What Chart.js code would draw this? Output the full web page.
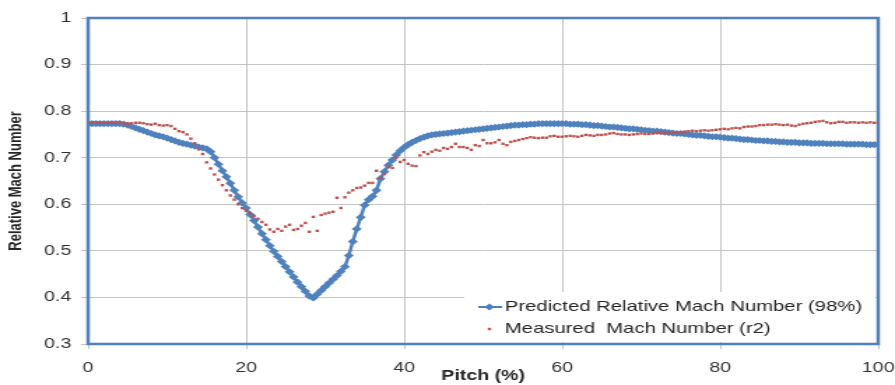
<!DOCTYPE html>
<html>
<head>
<meta charset="utf-8">
<script src="https://cdn.jsdelivr.net/npm/chart.js@4.4.1/dist/chart.umd.min.js"></script>
<style>
  html, body { margin: 0; padding: 0; background: #fff; overflow: hidden; }
  /* the figure is drawn narrow and stretched sideways */
  #wrap { width: 640px; height: 385px; transform: scaleX(1.3984); transform-origin: 0 0; }
</style>
</head>
<body>
<div id="wrap"><canvas id="machChart"></canvas></div>
<script>
// pitch positions (%) of the sampled points
const pitch = [
  0, 0.5, 1, 1.5, 2, 2.5, 3, 3.5, 4, 4.5,
  5, 5.5, 6, 6.5, 7, 7.5, 8, 8.5, 9, 9.5,
  10, 10.5, 11, 11.5, 12, 12.5, 13, 13.5, 14, 14.5,
  15, 15.5, 16, 16.5, 17, 17.5, 18, 18.5, 19, 19.5,
  20, 20.5, 21, 21.5, 22, 22.5, 23, 23.5, 24, 24.5,
  25, 25.5, 26, 26.5, 27, 27.5, 28, 28.5, 29, 29.5,
  30, 30.5, 31, 31.5, 32, 32.5, 33, 33.5, 34, 34.5,
  35, 35.5, 36, 36.5, 37, 37.5, 38, 38.5, 39, 39.5,
  40, 40.5, 41, 41.5, 42, 42.5, 43, 43.5, 44, 44.5,
  45, 45.5, 46, 46.5, 47, 47.5, 48, 48.5, 49, 49.5,
  50, 50.5, 51, 51.5, 52, 52.5, 53, 53.5, 54, 54.5,
  55, 55.5, 56, 56.5, 57, 57.5, 58, 58.5, 59, 59.5,
  60, 60.5, 61, 61.5, 62, 62.5, 63, 63.5, 64, 64.5,
  65, 65.5, 66, 66.5, 67, 67.5, 68, 68.5, 69, 69.5,
  70, 70.5, 71, 71.5, 72, 72.5, 73, 73.5, 74, 74.5,
  75, 75.5, 76, 76.5, 77, 77.5, 78, 78.5, 79, 79.5,
  80, 80.5, 81, 81.5, 82, 82.5, 83, 83.5, 84, 84.5,
  85, 85.5, 86, 86.5, 87, 87.5, 88, 88.5, 89, 89.5,
  90, 90.5, 91, 91.5, 92, 92.5, 93, 93.5, 94, 94.5,
  95, 95.5, 96, 96.5, 97, 97.5, 98, 98.5, 99, 99.5,
  100
];

// predicted relative Mach number (98% span)
const predicted = [
  0.773, 0.773, 0.773, 0.773, 0.773, 0.773, 0.773, 0.773, 0.773, 0.772,
  0.770, 0.767, 0.764, 0.761, 0.758, 0.755, 0.752, 0.749, 0.747, 0.745,
  0.742, 0.739, 0.736, 0.733, 0.731, 0.729, 0.727, 0.725, 0.723, 0.721,
  0.719, 0.713, 0.700, 0.686, 0.672, 0.659, 0.645, 0.630, 0.616, 0.603,
  0.592, 0.578, 0.565, 0.551, 0.537, 0.524, 0.511, 0.499, 0.488, 0.477,
  0.466, 0.455, 0.444, 0.433, 0.423, 0.413, 0.403, 0.399, 0.407, 0.415,
  0.423, 0.431, 0.439, 0.447, 0.456, 0.466, 0.490, 0.520, 0.547, 0.572,
  0.598, 0.610, 0.617, 0.630, 0.655, 0.670, 0.684, 0.695, 0.706, 0.715,
  0.722, 0.728, 0.733, 0.737, 0.741, 0.744, 0.747, 0.749, 0.750, 0.751,
  0.752, 0.753, 0.754, 0.755, 0.756, 0.757, 0.758, 0.759, 0.760, 0.761,
  0.762, 0.763, 0.764, 0.765, 0.766, 0.767, 0.768, 0.769, 0.770, 0.770,
  0.771, 0.771, 0.772, 0.772, 0.773, 0.773, 0.773, 0.773, 0.773, 0.773,
  0.773, 0.773, 0.772, 0.772, 0.772, 0.771, 0.771, 0.770, 0.769, 0.769,
  0.768, 0.767, 0.766, 0.766, 0.765, 0.764, 0.763, 0.762, 0.762, 0.761,
  0.760, 0.759, 0.758, 0.757, 0.757, 0.756, 0.755, 0.754, 0.753, 0.752,
  0.752, 0.751, 0.750, 0.749, 0.748, 0.748, 0.747, 0.746, 0.745, 0.745,
  0.744, 0.743, 0.742, 0.742, 0.741, 0.740, 0.739, 0.739, 0.738, 0.737,
  0.737, 0.736, 0.736, 0.735, 0.735, 0.734, 0.734, 0.733, 0.733, 0.733,
  0.732, 0.732, 0.732, 0.731, 0.731, 0.731, 0.731, 0.730, 0.730, 0.730,
  0.730, 0.730, 0.729, 0.729, 0.729, 0.729, 0.729, 0.728, 0.728, 0.728,
  0.728
];

// measured Mach number (r2)
const measured = [
  0.775, 0.775, 0.776, 0.775, 0.775, 0.775, 0.775, 0.775, 0.776, 0.774,
  0.773, 0.774, 0.775, 0.775, 0.774, 0.772, 0.771, 0.773, 0.770, 0.769,
  0.770, 0.768, 0.762, 0.757, 0.755, 0.750, 0.741, 0.731, 0.718, 0.708,
  0.690, 0.677, 0.664, 0.653, 0.641, 0.630, 0.619, 0.610, 0.600, 0.592,
  0.586, 0.581, 0.575, 0.569, 0.562, 0.556, 0.546, 0.541, 0.547, 0.543,
  0.552, 0.556, 0.545, 0.547, 0.554, 0.560, 0.541, 0.573, 0.543, 0.577,
  0.580, 0.582, 0.584, 0.614, 0.592, 0.615, 0.625, 0.630, 0.635, 0.636,
  0.640, 0.646, 0.646, 0.672, 0.657, 0.665, 0.680, 0.678, 0.700, 0.691,
  0.695, 0.687, 0.683, 0.682, 0.705, 0.712, 0.708, 0.713, 0.717, 0.715,
  0.721, 0.719, 0.723, 0.730, 0.723, 0.723, 0.721, 0.717, 0.727, 0.725,
  0.738, 0.731, 0.731, 0.733, 0.738, 0.730, 0.727, 0.734, 0.736, 0.738,
  0.740, 0.742, 0.744, 0.743, 0.742, 0.743, 0.743, 0.746, 0.747, 0.745,
  0.745, 0.746, 0.747, 0.746, 0.745, 0.747, 0.749, 0.748, 0.747, 0.749,
  0.749, 0.750, 0.752, 0.753, 0.751, 0.750, 0.750, 0.749, 0.750, 0.751,
  0.752, 0.751, 0.751, 0.752, 0.753, 0.753, 0.752, 0.753, 0.754, 0.753,
  0.754, 0.756, 0.757, 0.758, 0.757, 0.758, 0.759, 0.758, 0.759, 0.760,
  0.761, 0.762, 0.761, 0.763, 0.764, 0.763, 0.766, 0.767, 0.767, 0.768,
  0.770, 0.770, 0.771, 0.771, 0.772, 0.771, 0.770, 0.771, 0.769, 0.768,
  0.771, 0.773, 0.774, 0.775, 0.777, 0.778, 0.779, 0.776, 0.774, 0.775,
  0.777, 0.777, 0.775, 0.776, 0.776, 0.775, 0.776, 0.775, 0.776, 0.775,
  0.775
];

const BLUE = "#4F81BD";
const RED = "#C0504D";

Chart.defaults.font.family = "'Liberation Sans', Arial, sans-serif";

// blue frame round the plot area
const plotFrame = {
  id: "plotFrame",
  beforeDatasetsDraw(chart) {
    const { ctx, chartArea: a } = chart;
    ctx.save();
    ctx.strokeStyle = BLUE;
    ctx.lineWidth = 2.5;
    ctx.strokeRect(a.left, a.top, a.right - a.left, a.bottom - a.top);
    ctx.restore();
  },
};

// legend box sitting in the lower right corner of the plot
const cornerLegend = {
  id: "cornerLegend",
  afterDatasetsDraw(chart) {
    const { ctx, chartArea: a } = chart;
    const left = a.right - 296;
    const top = a.bottom - 52;
    ctx.save();
    ctx.fillStyle = "#fff";
    ctx.fillRect(left, top, a.right - left - 2, 50);
    ctx.font = "14.5px 'Liberation Sans', Arial, sans-serif";
    ctx.textBaseline = "middle";
    chart.data.datasets.forEach((ds, i) => {
      const y = top + 15 + i * 22;
      const mx = left + 18;
      if (ds.showLine !== false) {
        ctx.strokeStyle = ds.borderColor;
        ctx.lineWidth = 2;
        ctx.beginPath();
        ctx.moveTo(left + 10, y);
        ctx.lineTo(left + 27, y);
        ctx.stroke();
      }
      ctx.fillStyle = ds.pointBackgroundColor;
      ctx.beginPath();
      Chart.helpers.drawPoint(ctx, { pointStyle: ds.pointStyle, borderWidth: 0, radius: ds.pointRadius }, mx, y);
      ctx.fillStyle = "#262626";
      ctx.fillText(ds.label, left + 29, y);
    });
    ctx.restore();
  },
};

new Chart(document.getElementById("machChart"), {
  type: "line",
  data: {
    datasets: [
      {
        label: "Predicted Relative Mach Number (98%)",
        data: predicted.map((v, i) => ({ x: pitch[i], y: v })),
        borderColor: BLUE,
        borderWidth: 2.5,
        pointStyle: "rectRot",
        pointRadius: 3.6,
        pointBackgroundColor: BLUE,
        pointBorderWidth: 0,
        tension: 0,
        order: 2,
      },
      {
        label: "Measured  Mach Number (r2)",
        data: measured.map((v, i) => ({ x: pitch[i], y: v })),
        showLine: false,
        borderColor: RED,
        pointStyle: "rect",
        pointRadius: 1.7,
        pointBackgroundColor: RED,
        pointBorderWidth: 0,
        order: 1,
      },
    ],
  },
  options: {
    responsive: true,
    maintainAspectRatio: false,
    animation: false,
    devicePixelRatio: 1,
    layout: { padding: { top: 18, right: 0, left: 0, bottom: 0 } },
    plugins: { legend: { display: false }, tooltip: { enabled: false } },
    scales: {
      x: {
        type: "linear",
        min: 0,
        max: 100,
        border: { display: false },
        grid: { color: "#C4C4C4", lineWidth: 1, tickLength: 5 },
        ticks: {
          stepSize: 20,
          maxRotation: 0,
          padding: 11,
          color: "#333",
          font: { size: 14 },
        },
        title: {
          display: true,
          text: "Pitch (%)",
          color: "#262626",
          font: { size: 14, weight: "bold" },
          padding: { top: 0, bottom: 0 },
        },
        afterFit(scale) {
          scale.height = 41;
          scale.paddingLeft = 0;
          scale.paddingRight = 12;
        },
      },
      y: {
        min: 0.3,
        max: 1,
        border: { display: false },
        grid: { color: "#C4C4C4", lineWidth: 1, tickLength: 5 },
        ticks: {
          stepSize: 0.1,
          padding: 7,
          color: "#333",
          font: { size: 14 },
          callback: (v) => String(Number(v.toFixed(1))),
        },
        title: {
          display: true,
          text: "Relative Mach Number",
          color: "#262626",
          font: { size: 13, weight: "bold" },
          padding: { top: 4, bottom: 0 },
        },
        afterFit(scale) { scale.width = 63; },
      },
    },
  },
  plugins: [plotFrame, cornerLegend],
});
</script>
</body>
</html>
